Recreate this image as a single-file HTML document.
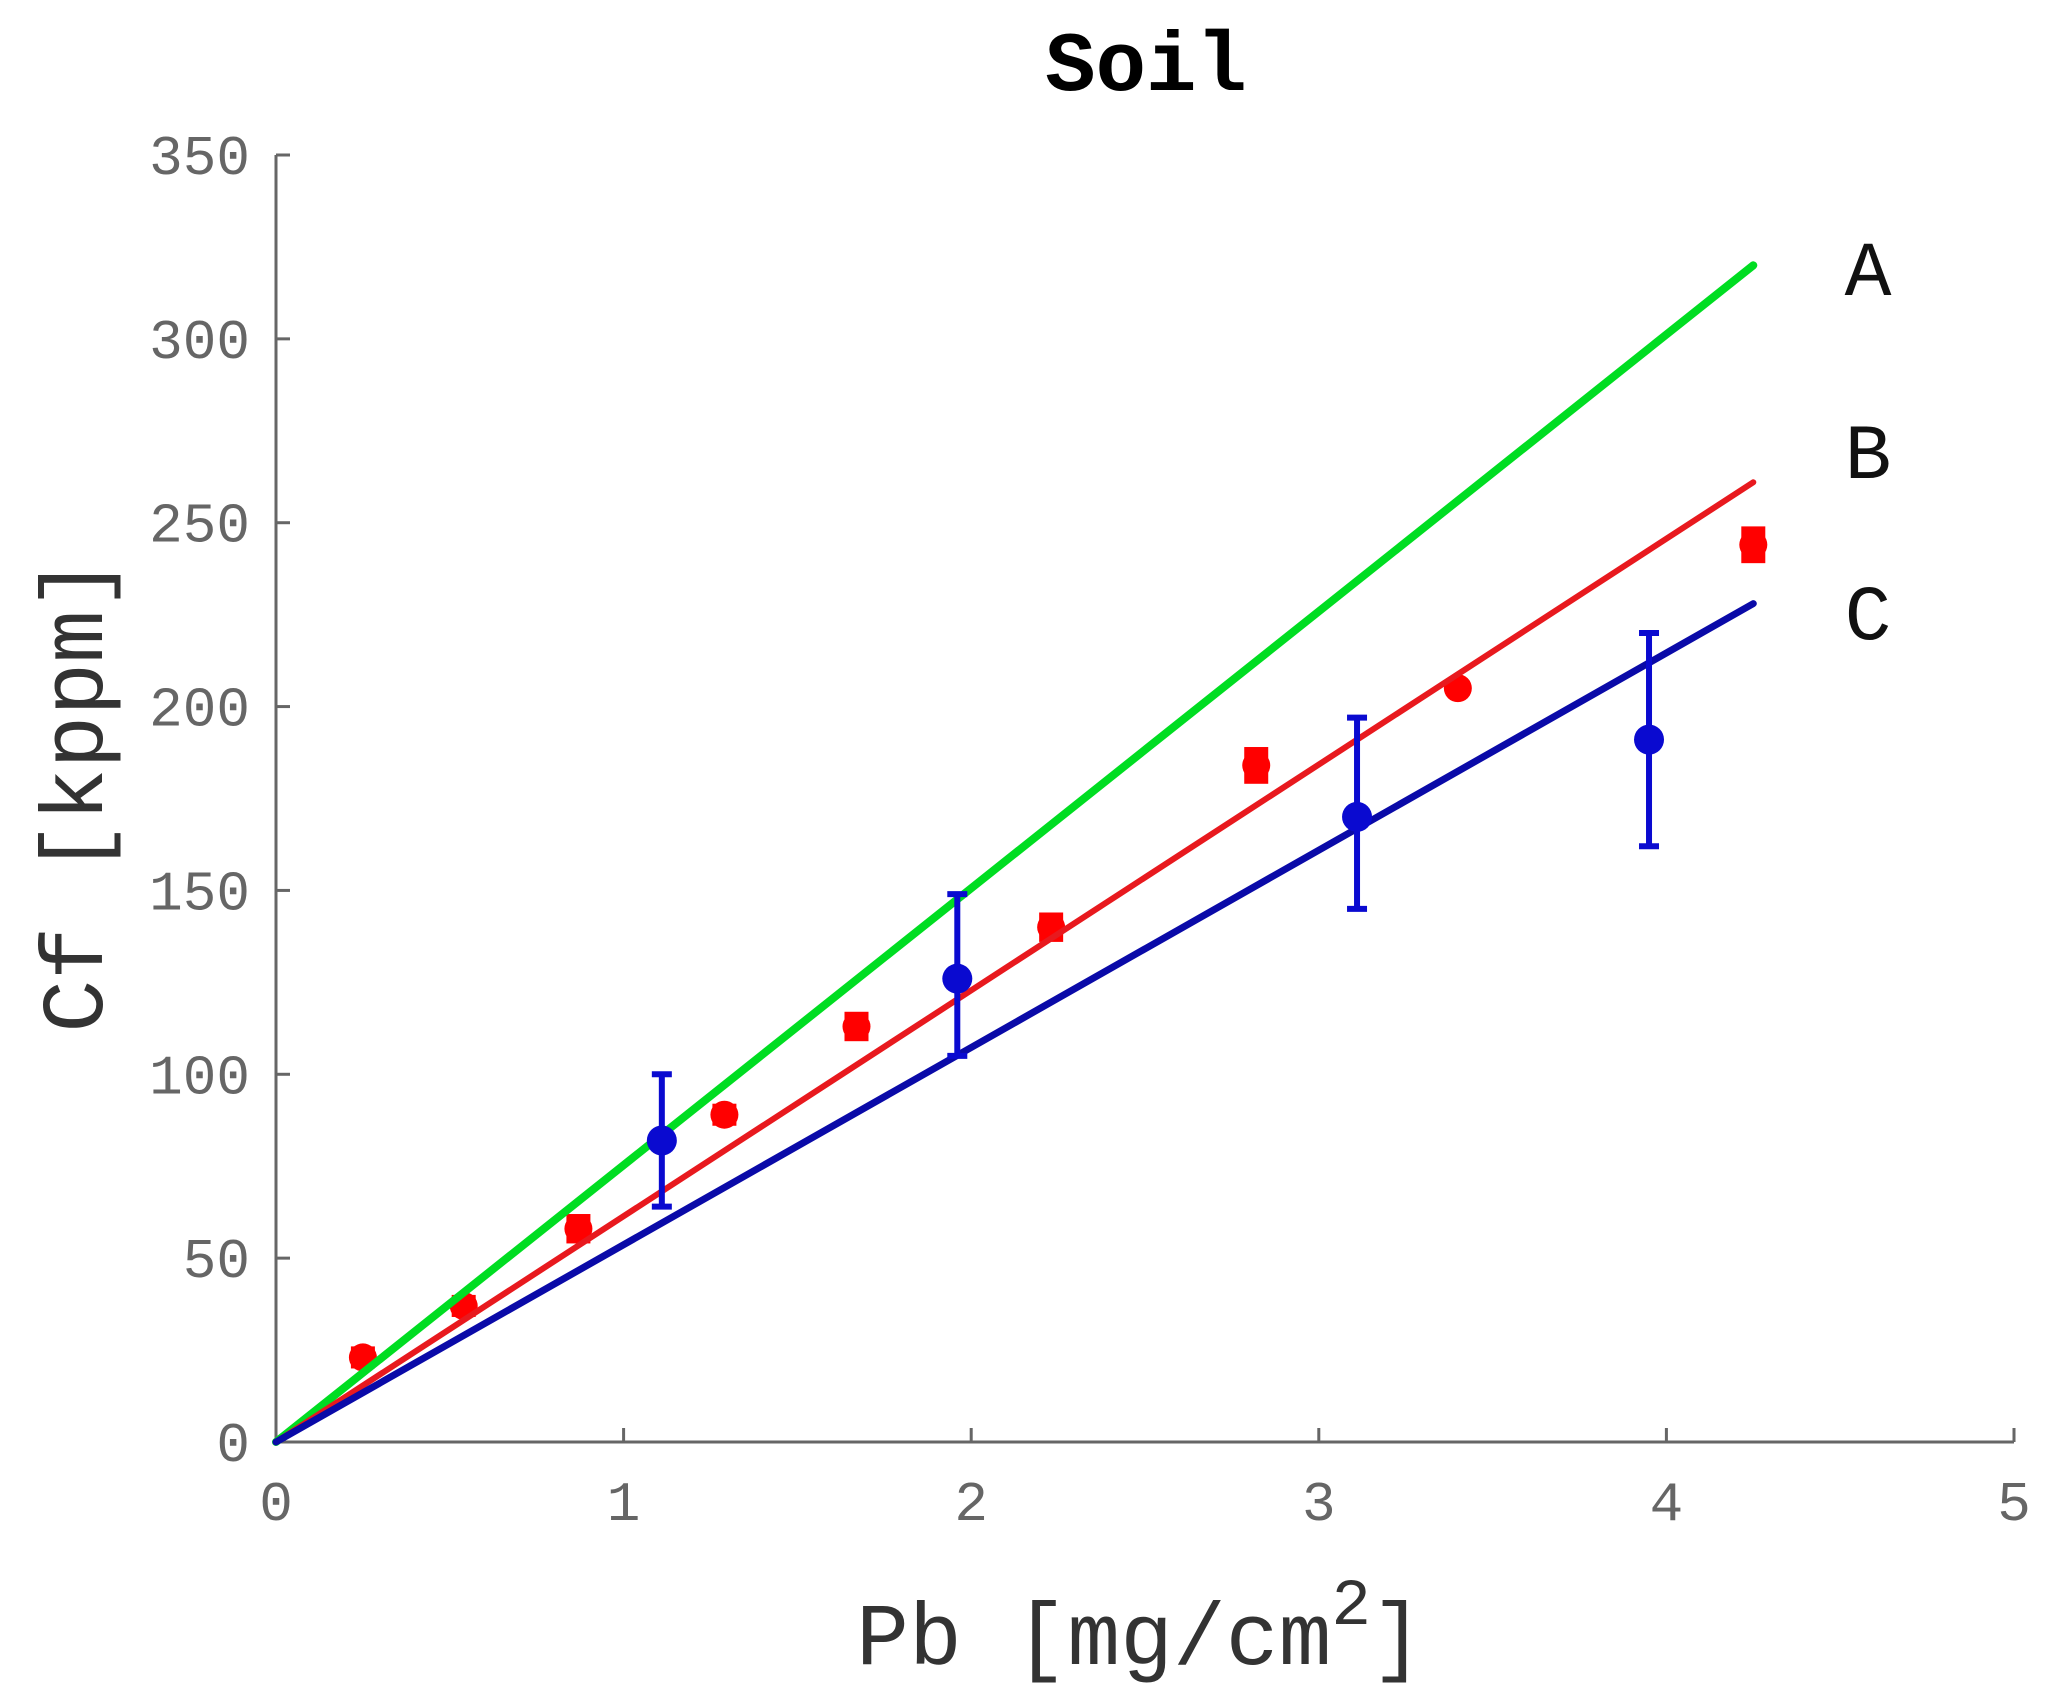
<!DOCTYPE html>
<html><head><meta charset="utf-8"><style>
html,body{margin:0;padding:0;background:#fff;}
svg{display:block;}
</style></head><body>
<svg id="s" width="2055" height="1704" viewBox="0 0 2055 1704" xmlns="http://www.w3.org/2000/svg">
<g font-family="'Liberation Mono', monospace">
<text x="1146" y="90" font-size="84" font-weight="bold" text-anchor="middle" fill="#000">Soil</text>
<text x="1140" y="1664" font-size="88" text-anchor="middle" fill="#333">Pb [mg/cm<tspan dy="-40" font-size="66">2</tspan><tspan dy="40">]</tspan></text>
<text transform="translate(102,795) rotate(-90)" font-size="88" text-anchor="middle" fill="#333">Cf [kppm]</text>
<text x="1868" y="295" font-size="78" text-anchor="middle" fill="#111">A</text>
<text x="1868" y="478" font-size="78" text-anchor="middle" fill="#111">B</text>
<text x="1868" y="639" font-size="78" text-anchor="middle" fill="#111">C</text>
</g>
<g id="plot"></g>
</svg>
<script>
var ox=276,oy=1442,xu=347.6,yu=(1442-155)/350;
function X(v){return ox+v*xu}function Y(v){return oy-v*yu}
var h='';
h+='<line x1="'+ox+'" y1="'+Y(350)+'" x2="'+ox+'" y2="'+oy+'" stroke="#666" stroke-width="3"/>';
h+='<line x1="'+ox+'" y1="'+oy+'" x2="'+X(5)+'" y2="'+oy+'" stroke="#666" stroke-width="3"/>';
for(var i=0;i<=7;i++){var y=Y(i*50);
h+='<line x1="'+ox+'" y1="'+y+'" x2="'+(ox+14)+'" y2="'+y+'" stroke="#666" stroke-width="3"/>';
h+='<text x="'+(ox-26)+'" y="'+(y+19)+'" font-family="Liberation Mono,monospace" font-size="56" text-anchor="end" fill="#666">'+(i*50)+'</text>';}
for(var i=0;i<=5;i++){var x=X(i);
h+='<line x1="'+x+'" y1="'+oy+'" x2="'+x+'" y2="'+(oy-14)+'" stroke="#666" stroke-width="3"/>';
h+='<text x="'+x+'" y="'+(oy+78)+'" font-family="Liberation Mono,monospace" font-size="56" text-anchor="middle" fill="#666">'+i+'</text>';}
function line(y2,c,w){return '<line x1="'+ox+'" y1="'+oy+'" x2="'+X(4.25)+'" y2="'+Y(y2)+'" stroke="'+c+'" stroke-width="'+w+'" stroke-linecap="round"/>';}
var red=[[0.25,23,3],[0.54,37,3],[0.87,58,4],[1.29,89,3],[1.67,113,4],[2.23,140,4],[2.82,184,5],[3.40,205,2],[4.25,244,5]];
var blue=[[1.11,82,64,100],[1.96,126,105,149],[3.11,170,145,197],[3.95,191,162,220]];
red.forEach(function(p){var x=X(p[0]);
h+='<rect x="'+(x-12)+'" y="'+Y(p[1]+p[2])+'" width="24" height="'+(Y(p[1]-p[2])-Y(p[1]+p[2]))+'" fill="#f00"/>';
h+='<circle cx="'+x+'" cy="'+Y(p[1])+'" r="14" fill="#f00"/>';});
h+=line(320,'#00dd22',8);
h+=line(261,'#e8191e',6);
h+=line(228,'#0a0aa8',7);
blue.forEach(function(p){var x=X(p[0]);
h+='<line x1="'+x+'" y1="'+Y(p[2])+'" x2="'+x+'" y2="'+Y(p[3])+'" stroke="#0a0ad0" stroke-width="6"/>';
h+='<line x1="'+(x-10)+'" y1="'+Y(p[2])+'" x2="'+(x+10)+'" y2="'+Y(p[2])+'" stroke="#0a0ad0" stroke-width="6"/>';
h+='<line x1="'+(x-10)+'" y1="'+Y(p[3])+'" x2="'+(x+10)+'" y2="'+Y(p[3])+'" stroke="#0a0ad0" stroke-width="6"/>';
h+='<circle cx="'+x+'" cy="'+Y(p[1])+'" r="15" fill="#0a0ad0"/>';});
document.getElementById('plot').innerHTML=h;
</script>
</body></html>
